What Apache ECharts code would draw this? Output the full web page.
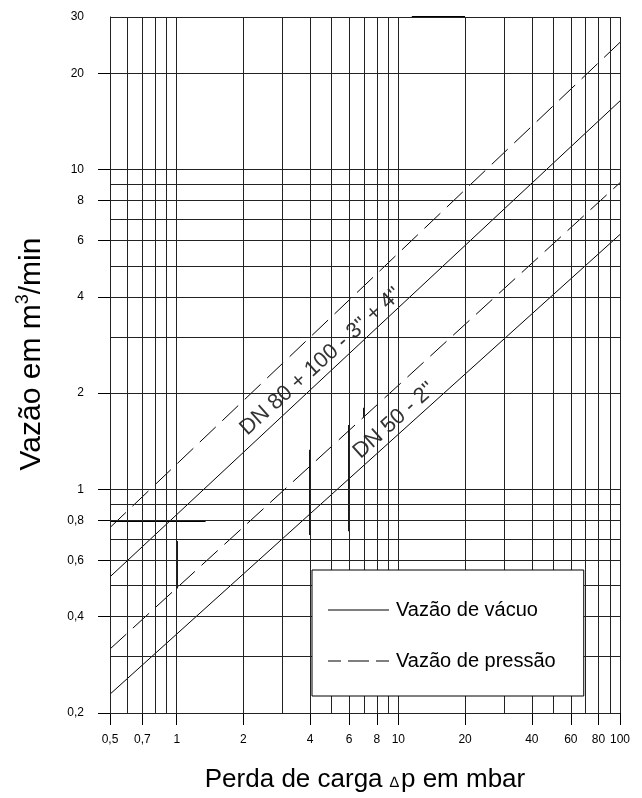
<!DOCTYPE html>
<html><head><meta charset="utf-8">
<script src="https://cdn.jsdelivr.net/npm/echarts@6/dist/echarts.min.js"></script>
<style>html,body{margin:0;padding:0;background:#fff}#c{width:642px;height:798px}</style>
</head><body><div id="c"></div>
<script>
// ---- data ----
const xGrid = [0.5,0.6,0.7,0.8,0.9,1,2,3,4,5,6,7,8,9,10,20,30,40,50,60,70,80,90,100];
const yGrid = [0.2,0.3,0.4,0.5,0.6,0.7,0.8,0.9,1,2,3,4,5,6,7,8,9,10,20,30];
const xTicks = [0.5,0.7,1,2,4,6,8,10,20,40,60,80,100];
const yTicks = [0.2,0.4,0.6,0.8,1,2,4,6,8,10,20,30];
const yTickMarks = [0.2,0.4,0.6,0.8,1,2,4,6,8,10,20];

const vacuoDN80   = [[0.5,0.533],[100,16.4]];
const pressaoDN80 = [[0.5,0.76],[100,25]];
const vacuoDN50   = [[0.5,0.229],[100,6.27]];
const pressaoDN50 = [[0.5,0.317],[100,9.1]];

// heavier grid segments visible in the reference drawing
const boldSegments = [
  [[11.5,30],[20,30]],
  [[0.5,0.8],[1.35,0.8]],
  [[1,0.49],[1,0.69]],
  [[4,0.72],[4,1.33]],
  [[6,0.74],[6,1.59]],
  [[7,1.57],[7,1.8]]
];
// grid segments drawn in plain black in the reference
const blackSegments = [
  [[2,3],[20,3]],
  [[2,8],[6,8]],
  [[2,6],[3.6,6]]
];

const labelDN80 = 'DN 80 + 100 - 3" + 4"';
const labelDN50 = 'DN 50 - 2"';
const labelDN80At = [4.47, 2.51];
const labelDN50At = [9.59, 1.64];
const bandDN80 = [1.05, 12.5];
const bandDN50 = [6.3, 15];

const nameVacuo = 'Vazão de vácuo';
const namePressao = 'Vazão de pressão';

// ---- chart ----
const FONT = 'Liberation Sans, Arial, sans-serif';
const GRID = '#222';
const chart = echarts.init(document.getElementById('c'), null, {renderer:'canvas'});

function onLine(line, x) {
  const a = line[0], b = line[line.length-1];
  const t = (Math.log(x) - Math.log(a[0])) / (Math.log(b[0]) - Math.log(a[0]));
  return [x, Math.exp(Math.log(a[1]) + t * (Math.log(b[1]) - Math.log(a[1])))];
}
function bandSeries(upper, lower, range) {
  return {
    type: 'custom', z: 2, silent: true, animation: false,
    data: [[range[0], range[1]]],
    renderItem: function (params, api) {
      const pts = [onLine(upper, range[0]), onLine(upper, range[1]),
                   onLine(lower, range[1]), onLine(lower, range[0])].map(p => api.coord(p));
      return { type: 'polygon', shape: { points: pts }, style: { fill: '#fff', stroke: null } };
    }
  };
}
function labelSeries(text, at) {
  return {
    type: 'scatter', z: 3, silent: true, animation: false, symbolSize: 0,
    data: [at],
    label: { show: true, position: 'inside', formatter: text, rotate: 42,
             fontFamily: FONT, fontSize: 22, color: '#000' }
  };
}
function curve(name, data, dashed) {
  return {
    type: 'line', name: name, data: data, z: 4, showSymbol: false, symbol: 'none',
    silent: true, animation: false,
    itemStyle: { color: '#000' },
    lineStyle: { color: '#000', width: 1, type: dashed ? [22, 9] : 'solid' }
  };
}
function segSeries(segs, width) {
  return {
    type: 'lines', coordinateSystem: 'cartesian2d', z: 1, silent: true, animation: false,
    lineStyle: { color: '#000', width: width, opacity: 1, curveness: 0 },
    data: segs.map(s => ({ coords: s }))
  };
}

const option = {
  animation: false,
  backgroundColor: '#fff',
  grid: { left: 110, top: 17, width: 510, height: 709, containLabel: false },
  legend: {
    data: [
      { name: nameVacuo, icon: 'path://M0,0h61v1h-61z', itemStyle: { color: '#000', borderWidth: 0 } },
      { name: namePressao, icon: 'path://M0,0h13v1h-13z M20,0h21v1h-21z M48,0h13v1h-13z', itemStyle: { color: '#000', borderWidth: 0 } }
    ],
    orient: 'vertical', left: 312, top: 570,
    itemWidth: 61, itemHeight: 20, itemGap: 31,
    padding: [30, 28, 25, 16],
    backgroundColor: '#fff', borderColor: '#000', borderWidth: 1, borderRadius: 0,
    z: 10,
    textStyle: { fontFamily: FONT, fontSize: 20, color: '#000', padding: [0, 0, 0, 2] }
  },
  xAxis: {
    type: 'log', logBase: 10, min: 0.5, max: 100,
    axisLine: { show: true, onZero: false, lineStyle: { color: '#000', width: 1 } },
    axisTick: { show: true, customValues: xTicks, length: 12, lineStyle: { color: '#000' } },
    axisLabel: { customValues: xTicks, formatter: v => String(v).replace('.', ','),
                 margin: 21, fontFamily: FONT, fontSize: 12, color: '#000' },
    splitLine: { show: false },
    name: 'Perda de carga {d|∆}p em mbar', nameLocation: 'middle', nameGap: 54,
    nameTextStyle: { fontFamily: FONT, fontSize: 26, color: '#000',
                     rich: { d: { fontFamily: FONT, fontSize: 15, color: '#000', padding: [6, 2, 0, 0] } } }
  },
  yAxis: {
    type: 'log', logBase: 10, min: 0.2, max: 30,
    axisLine: { show: true, onZero: false, lineStyle: { color: '#000', width: 1 } },
    axisTick: { show: true, customValues: yTickMarks, length: 12, lineStyle: { color: '#000' } },
    axisLabel: { customValues: yTicks, formatter: v => String(v).replace('.', ','),
                 margin: 26, fontFamily: FONT, fontSize: 12, color: '#000' },
    splitLine: { show: false },
    name: 'Vazão em m{s|3}/min', nameLocation: 'middle', nameGap: 60,
    nameTextStyle: { fontFamily: FONT, fontSize: 30, color: '#000', lineHeight: 36,
                     padding: [0, 0, 0, 22],
                     rich: { s: { fontFamily: FONT, fontSize: 18, color: '#000', lineHeight: 18, verticalAlign: 'top' } } }
  },
  series: [
    {
      type: 'line', data: [], z: 1, silent: true, animation: false,
      markLine: {
        silent: true, animation: false, symbol: ['none', 'none'],
        label: { show: false },
        lineStyle: { color: GRID, width: 1, type: 'solid' },
        emphasis: { disabled: true },
        data: xGrid.map(v => ({ xAxis: v })).concat(yGrid.map(v => ({ yAxis: v })))
      }
    },
    segSeries(boldSegments, 1.8),
    segSeries(blackSegments, 1),
    bandSeries(pressaoDN80, vacuoDN80, bandDN80),
    bandSeries(pressaoDN50, vacuoDN50, bandDN50),
    labelSeries(labelDN80, labelDN80At),
    labelSeries(labelDN50, labelDN50At),
    curve(nameVacuo, vacuoDN80, false),
    curve(namePressao, pressaoDN80, true),
    curve(nameVacuo, vacuoDN50, false),
    curve(namePressao, pressaoDN50, true)
  ]
};
chart.setOption(option);
</script>
</body></html>
